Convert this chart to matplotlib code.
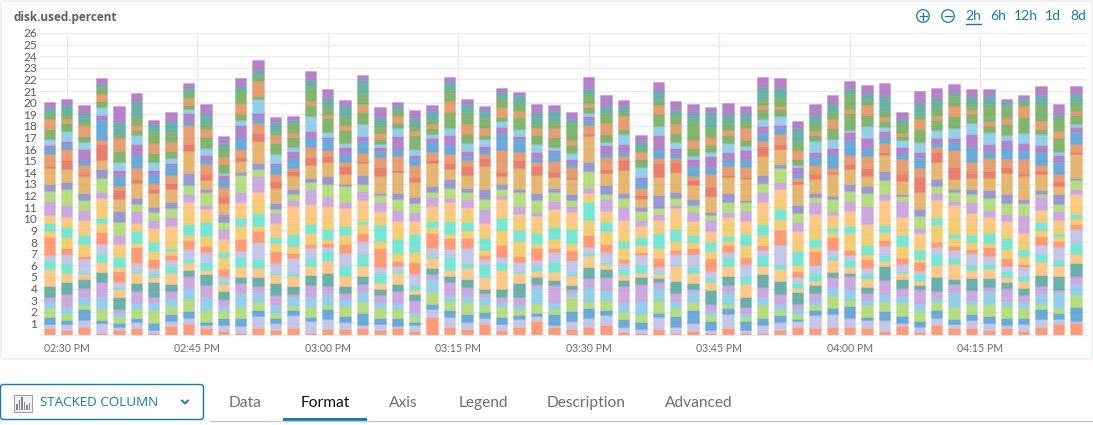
import numpy as np
import matplotlib
matplotlib.use("Agg")
import matplotlib.pyplot as plt
from matplotlib.colors import to_rgba
from matplotlib.patches import FancyBboxPatch, Rectangle, Circle

plt.rcParams['font.family'] = ['Lato', 'DejaVu Sans']

# stack heights per time bucket, bottom series first (29 series, one bar every 2 minutes)
t_0228 = [.60,.37,.57,.75,.60,.34,.98,1.44,.75,.49,1.55,.52,.66,.34,.40,1.15,.89,.60,1.38,.17,1.03,.46,.29,.52,.92,.80,.52,.49,.46]
t_0230 = [.46,.52,.32,.57,.52,1.15,1.03,.75,.89,.75,.57,.92,.86,.60,.26,1.03,1.35,.63,1.12,.78,.92,.46,.20,.89,.69,.34,.52,.69,.49]
t_0232 = [.69,.60,.95,.32,.75,.72,.75,.43,.23,1.09,.29,1.03,.78,.34,.92,.86,.86,.60,1.44,.23,.75,.43,.98,.57,.49,.98,.34,.69,.72]
t_0234 = [.20,.80,.29,.98,.98,1.32,.83,.86,.69,.89,1.03,.80,.37,1.35,.37,.57,1.21,.75,.80,1.32,.34,1.78,.40,.66,.52,.63,.57,.26,.52]
t_0236 = [.43,.29,.32,.49,.34,.37,1.01,.72,.17,.40,.95,.37,.83,.57,.57,.78,1.09,.98,1.03,.80,.32,.83,.55,.66,1.01,1.06,.29,1.09,1.41]
t_0238 = [.57,.57,.34,.80,.46,1.01,.75,.80,.20,.69,1.38,.37,1.01,.37,.34,1.03,.57,.52,1.29,.34,1.01,1.09,.92,.80,.40,.43,.83,1.18,.80]
t_0240 = [.20,.23,.57,1.15,.57,.55,1.29,.43,.34,.43,.78,.72,.78,.63,.55,.69,.66,.49,1.18,.32,.52,.78,.32,.75,.72,.89,1.01,.63,.29]
t_0242 = [.75,.46,.63,.69,.63,.66,.57,.98,.57,.49,.46,.37,.26,.98,.89,.80,.75,.52,1.12,.52,.66,.89,.20,.40,.63,.72,.86,.95,.80]
t_0244 = [.95,.49,.63,1.03,.98,.98,.55,.57,.37,.86,.80,.37,.98,1.01,.86,.72,.78,1.03,1.90,.57,1.64,.37,.66,.37,.29,.63,.57,.29,.46]
t_0246 = [.60,.26,.29,1.03,1.12,1.03,.92,.34,.69,.83,.57,.86,1.21,.80,.32,.34,1.12,.23,.75,.57,.86,.29,.43,.60,1.01,.63,.43,.89,.86]
t_0248 = [.34,.52,.60,.60,.40,.60,.75,.57,.20,.46,.63,1.01,.46,.40,.69,.86,.66,.63,.95,.57,.83,.60,.43,.20,.80,.60,.78,.40,.55]
t_0250 = [.20,.57,.72,.92,1.21,.83,.57,.86,.86,.46,1.06,1.12,.69,.40,1.01,.86,1.44,.29,.89,.40,.66,.98,1.09,.43,.52,.92,1.01,.43,.72]
t_0252 = [.57,1.03,.52,.69,.80,.57,.80,.78,.80,1.41,1.01,.40,1.12,1.24,.57,1.41,.55,.57,1.84,.75,.86,.43,.40,1.18,.29,1.29,.46,.46,.86]
t_0254 = [.43,.57,.46,.40,.75,.80,1.03,.72,.17,.83,1.09,.66,.55,.34,.83,.89,.32,.52,1.26,.66,.60,.72,.23,.75,.98,.66,.37,.78,.37]
t_0256 = [.57,1.18,.40,.34,.75,.29,.69,.83,.32,1.24,.46,.63,.98,.92,1.47,.55,.55,.43,1.09,.40,.29,.83,.60,.37,.89,.32,.83,.29,.32]
t_0258 = [.20,1.01,.32,.89,.86,1.03,.89,.78,.66,.83,.34,1.01,.75,.69,1.03,1.26,.60,.34,1.12,.75,.80,.89,.49,1.29,1.01,.32,1.24,.55,.78]
t_0300 = [.52,.89,.83,.34,.98,.63,1.18,1.01,.86,.32,.37,.34,.86,.80,1.21,.78,1.09,.69,1.18,.52,.49,.98,.20,.43,1.15,.29,.78,.69,.78]
t_0302 = [.55,.55,.55,.83,.66,.49,.55,.89,.89,1.06,.83,.75,.80,.32,1.21,.52,1.35,.17,.89,.66,.34,.69,.60,.40,1.12,.43,.75,.92,.43]
t_0304 = [.57,.29,1.03,.92,.89,.72,.66,.83,1.06,1.12,.72,.72,.32,.52,1.21,.78,.63,.80,1.03,.17,.72,.95,.43,1.09,.98,.72,.92,1.12,.46]
t_0306 = [.46,.49,.52,.86,.49,.60,.57,.49,.86,.52,1.61,.60,1.41,.72,.46,.80,.60,.20,1.41,.83,.83,.55,.29,.26,.46,.46,.69,.72,.89]
t_0308 = [.60,.20,.66,.75,.55,1.01,.66,.89,.20,.40,.46,.72,1.18,.98,.57,.89,1.01,.52,1.78,.20,1.18,.60,1.15,.66,.43,.60,.52,.32,.34]
t_0310 = [.37,.52,.23,.52,.37,.98,.55,.37,.40,.98,1.03,.80,1.61,.17,.95,.72,.80,.52,1.29,.46,1.01,.63,.23,.52,1.18,.34,.43,.66,.69]
t_0312 = [1.52,.69,.49,1.01,1.24,.29,.52,.83,.23,.66,1.32,.49,.49,.52,.78,.78,.49,.46,2.04,.23,.69,.86,.29,.40,.49,.34,.32,.78,.55]
t_0314 = [.72,.86,.55,.80,.52,1.09,.55,.49,1.15,.66,.98,.34,1.12,.78,.83,.32,.86,.83,.83,.49,.80,.80,.86,.60,1.41,.89,.92,.72,.43]
t_0316 = [.52,.63,.69,1.01,.55,.75,.66,.92,.49,1.26,.86,.66,.75,.66,.63,.66,.60,.34,1.12,.80,.52,.32,.46,.66,.75,.86,1.03,.69,.49]
t_0318 = [.98,.46,.52,.63,.72,.32,.37,1.01,.98,.57,.29,.43,1.09,.63,.63,1.26,.80,.89,2.01,.66,.34,.32,.32,.63,.40,.55,.83,.75,.32]
t_0320 = [.43,.49,.66,.80,.49,.43,.69,1.58,.66,.52,1.03,1.24,1.03,.46,1.18,.29,.60,.43,.69,.37,1.84,1.49,.55,.49,.37,.86,.72,.55,.29]
t_0322 = [.66,.72,.34,.52,.37,.63,1.24,.86,.17,.75,.55,1.24,.98,.86,.52,.72,1.15,.29,1.78,.69,.75,1.06,.32,.60,.98,.57,.69,.63,.32]
t_0324 = [1.21,.43,.29,.72,1.44,.29,.63,.49,.40,.52,1.09,.32,.92,.52,.98,.34,1.06,.55,1.61,.72,.37,.37,.52,.69,.72,.60,.37,.95,.78]
t_0326 = [.66,.20,.95,.40,.52,1.55,.46,.69,.86,.83,.34,.80,1.03,.92,.66,.63,.78,.37,.95,.46,.95,.72,.23,.23,.89,.75,.60,.86,.52]
t_0328 = [.52,.72,.80,1.21,.40,.32,.37,.72,.29,1.15,.78,.60,1.26,.46,1.01,.46,.55,.55,1.29,.17,.83,.32,.40,.49,.72,.37,1.52,.32,.60]
t_0330 = [.72,.75,.86,.55,1.24,.75,1.01,.89,.26,.57,1.03,1.24,1.61,.46,.32,.43,1.47,.72,2.27,.14,.78,.46,.34,.26,.46,.37,.80,.46,1.01]
t_0332 = [.86,.83,.46,.83,.86,1.18,.66,.40,.23,.80,.72,1.12,.75,.46,.52,1.03,.46,.78,.98,.37,1.03,.26,.78,.23,.69,.92,.92,.60,.95]
t_0334 = [.26,.40,.69,.60,.80,1.44,.52,.49,.49,.55,.34,.89,.63,.89,.95,1.12,.75,.43,1.98,.83,.37,.34,.66,.92,.43,1.09,.37,.46,.57]
t_0336 = [.20,.32,.60,.69,1.12,1.47,.63,.34,.66,.86,.29,.57,.69,.20,.72,.57,.75,.34,.69,.32,.60,.72,.26,.83,.75,.57,.37,.46,.63]
t_0338 = [.52,1.03,.37,1.12,1.01,.49,.40,.29,.20,.46,.72,.86,1.32,.55,.57,.55,.46,1.12,1.58,1.18,.43,.78,1.24,.78,1.01,.75,.40,.78,.83]
t_0340 = [.17,.52,.98,.63,.66,.69,1.01,1.29,.14,.89,.34,.78,1.06,.72,1.03,.26,.66,.46,1.78,.80,.34,.46,.46,.46,.83,.72,.80,.40,.80]
t_0342 = [.37,.69,1.09,.69,.83,.29,.52,.89,.49,1.12,.52,.52,.63,.80,.37,.78,.60,.52,1.21,.40,.34,.92,.55,.26,.72,.63,1.70,.63,.78]
t_0344 = [.20,.23,.78,.52,.37,.57,1.21,.66,.37,.57,1.15,.63,.72,.37,.57,.95,.46,.23,1.41,.80,1.06,.60,1.01,.32,.60,.66,.89,1.32,.37]
t_0346 = [.57,1.21,.57,.34,.98,.66,.75,.83,.80,.40,.63,.32,.46,1.09,.52,.49,.80,.83,1.35,.17,.75,.52,.75,.72,.75,.43,.57,.80,.89]
t_0348 = [.20,.23,.80,.32,.32,.57,.86,1.12,.66,1.03,.60,1.03,.95,.29,.86,.83,.75,.20,1.81,.20,.86,.66,.78,.37,.52,.98,.66,.69,.57]
t_0350 = [.20,.66,.57,1.12,.69,.92,1.09,.69,.95,.43,.43,.86,.95,.78,1.09,.89,.80,.66,1.61,.92,.40,.69,.60,.63,.83,.37,.52,.98,.86]
t_0352 = [.43,.69,.60,.43,.49,.89,1.12,1.03,.40,1.67,1.29,.95,.89,.86,.80,.66,1.15,.37,1.26,.46,.86,.49,.29,.78,.60,.29,.72,.78,.86]
t_0354 = [.72,.49,.17,.46,.43,.40,1.03,.37,.43,.49,.52,.52,1.21,.80,.92,.80,.72,.72,1.78,.29,.23,.37,.60,.17,.52,.80,.78,1.12,.55]
t_0356 = [.60,1.12,.46,.37,.49,.55,.72,.37,.66,.72,1.18,.32,.69,.95,1.24,1.01,.43,.37,1.21,.43,.75,.69,.43,.92,.57,.32,.75,.63,.95]
t_0358 = [.69,1.15,.49,1.01,.80,.86,.43,1.06,.23,.60,1.12,.40,.34,.66,.49,.37,.98,.29,1.87,.23,.29,1.21,.57,.72,.95,.80,.55,.69,.78]
t_0400 = [.69,.80,1.03,.46,1.01,1.09,.29,.52,.60,.40,.43,1.47,.60,.57,.75,.86,.86,.57,1.32,.40,.75,1.29,.69,.20,1.47,.37,1.24,.43,.72]
t_0402 = [.60,.66,.29,1.06,.43,.55,.55,.72,.40,.49,.83,.37,.80,1.12,.69,1.52,1.12,.60,.89,.69,1.01,.69,.89,1.01,.98,.80,.46,.49,.83]
t_0404 = [.37,.92,.75,.83,.66,1.21,1.21,.43,.55,.69,.57,.69,.60,.52,1.61,.55,1.21,.75,1.41,.23,.75,.52,.49,.40,.52,.29,.55,1.29,1.12]
t_0406 = [.78,.23,.66,1.12,.55,.69,.78,.55,.17,.57,.52,1.03,.92,.63,.95,1.41,.40,.20,1.12,.60,1.29,.40,.63,.55,.34,.34,.78,.40,.57]
t_0408 = [.26,.40,.57,.80,.60,1.29,.40,.32,.57,.34,.72,.29,.72,.66,.83,.46,1.01,.63,1.47,1.26,.78,.98,.37,.86,1.18,.80,.40,1.01,1.03]
t_0410 = [.86,.57,.69,.72,.32,.60,1.24,1.03,.92,.66,.43,1.44,.63,.52,1.01,.60,.57,.63,1.49,.86,.40,.32,.46,.72,.78,.40,.75,.75,.89]
t_0412 = [.60,.32,.46,1.01,1.29,.72,.43,1.24,.60,.63,.37,.69,.32,1.35,1.15,.37,.78,.20,.92,1.03,1.47,.66,.37,.86,.98,.89,.86,.32,.72]
t_0414 = [.60,.69,.52,.89,.29,.89,1.06,.66,.43,1.01,.40,.57,.63,.92,.95,.95,.66,.43,.98,.46,.92,1.24,1.15,.95,.80,.32,.49,.69,.60]
t_0416 = [.43,.57,.63,1.01,1.15,.32,.80,.78,.40,.69,.78,.37,.89,.72,.60,.63,1.01,.69,1.01,.60,1.18,.60,.60,1.01,.49,.46,1.47,.69,.63]
t_0418 = [.60,.23,.63,1.03,.46,1.09,.55,.40,.52,.43,.69,.80,.92,.63,.83,.57,.95,.78,1.84,.55,.66,.98,.66,.40,.98,.49,1.03,.34,.32]
t_0420 = [.32,.63,.52,.83,.57,.55,.66,.60,.40,.75,.29,.69,.60,.72,.69,1.47,1.06,.40,1.95,.17,1.24,.80,.66,.86,1.38,.89,.26,.34,.32]
t_0422 = [.72,.66,.83,.49,.80,.69,.98,1.09,.69,.78,.83,.52,.69,.32,.69,1.06,.34,.32,1.32,.32,.46,1.12,.66,.92,.46,.66,1.44,.83,.72]
t_0424 = [.98,.37,.57,.37,1.29,.29,1.21,.89,.49,1.09,.55,.40,.32,.49,.55,.78,.63,.89,.69,.43,.57,1.06,.55,.32,1.15,.66,1.09,.34,.83]
t_0426 = [1.03,.17,1.24,1.01,.92,.69,1.15,.78,.89,1.21,.49,.49,.37,.83,.86,.40,.80,.20,2.01,.20,.72,1.01,.43,.26,.80,.32,.78,.69,.69]

stacks = [t_0228, t_0230, t_0232, t_0234, t_0236, t_0238, t_0240, t_0242, t_0244, t_0246,
          t_0248, t_0250, t_0252, t_0254, t_0256, t_0258, t_0300, t_0302, t_0304, t_0306,
          t_0308, t_0310, t_0312, t_0314, t_0316, t_0318, t_0320, t_0322, t_0324, t_0326,
          t_0328, t_0330, t_0332, t_0334, t_0336, t_0338, t_0340, t_0342, t_0344, t_0346,
          t_0348, t_0350, t_0352, t_0354, t_0356, t_0358, t_0400, t_0402, t_0404, t_0406,
          t_0408, t_0410, t_0412, t_0414, t_0416, t_0418, t_0420, t_0422, t_0424, t_0426]
minutes = [148 + 2 * i for i in range(len(stacks))]  # minutes after 12:00 PM

tick_minutes = [150, 165, 180, 195, 210, 225, 240, 255]
tick_labels = ["02:30 PM", "02:45 PM", "03:00 PM", "03:15 PM", "03:30 PM", "03:45 PM", "04:00 PM", "04:15 PM"]

salmon = "#FF8A60"
lavender = "#BBBDE4"
blue = "#529BD1"
lime = "#A9D86A"
sky = "#83C7E5"
lilac = "#C49AD9"
teal = "#51A29A"
peach = "#FFBF77"
turquoise = "#60E2CA"
yellow = "#F0C65E"
periwinkle = "#8888CA"
tan = "#E0AC59"
red = "#E46A57"
copper = "#E28D59"
purple = "#A86DBF"
green = "#6DA856"
series_colors = [salmon, lavender, blue, lime, sky, lilac, teal, peach, turquoise, lavender,
                 salmon, yellow, turquoise, yellow, peach, lilac, lime, periwinkle, tan, red,
                 copper, blue, purple, sky, green, copper, green, teal, purple]

W, H = 1093, 425
UI_BLUE = "#1479B0"
fig = plt.figure(figsize=(W / 100, H / 100), dpi=100)

# page chrome, in pixel coordinates
ui = fig.add_axes([0, 0, 1, 1], zorder=0)
ui.set_xlim(0, W)
ui.set_ylim(H, 0)
ui.axis("off")
ui.add_patch(FancyBboxPatch((1, 1), 1091, 358, boxstyle="round,pad=0,rounding_size=3",
                            fc="white", ec="#E4EAF2", lw=1))
ui.text(13, 17, "disk.used.percent", fontsize=8.5, fontweight="bold", color="#5E5E5E",
        va="center", ha="left", family=["Open Sans", "DejaVu Sans"])

for cx in (923, 948):
    ui.add_patch(Circle((cx, 16), 6.3, fc="none", ec=UI_BLUE, lw=0.9))
    ui.plot([cx - 3.5, cx + 3.5], [16, 16], color=UI_BLUE, lw=0.9)
ui.plot([923, 923], [12.5, 19.5], color=UI_BLUE, lw=0.9)
for label, cx in zip(["2h", "6h", "12h", "1d", "8d"], [973, 998, 1026, 1053, 1078]):
    ui.text(cx, 15.5, label, fontsize=10, color=UI_BLUE, ha="center", va="center")
ui.plot([966, 981], [24, 24], color=UI_BLUE, lw=1)

# chart type button and tabs
ui.add_patch(FancyBboxPatch((0.5, 384.5), 203, 35, boxstyle="round,pad=0,rounding_size=3",
                            fc="white", ec=UI_BLUE, lw=1))
ui.add_patch(Rectangle((13.5, 394.5), 18, 17, fc="#F2F2F2", ec="#9A9A9A", lw=0.7))
for bx, bh in zip([16, 18.5, 21, 23.5, 26, 28.5], [6, 10, 13, 8, 5, 7]):
    ui.add_patch(Rectangle((bx, 410 - bh), 1.7, bh, fc="#7D8A94", ec="none"))
ui.text(40.5, 402.5, "STACKED COLUMN", fontsize=9.6, color=UI_BLUE, ha="left", va="center",
        family=["Open Sans", "DejaVu Sans"])
ui.plot([182, 185, 188], [400.5, 403.5, 400.5], color=UI_BLUE, lw=1.4)
ui.plot([210, W], [421.2, 421.2], color="#C9C9C9", lw=1)
ui.add_patch(Rectangle((283, 418), 84, 3, fc=UI_BLUE, ec="none"))
tab_names = ["Data", "Format", "Axis", "Legend", "Description", "Advanced"]
tab_x = [245, 325, 403, 483, 586, 699]
for name, cx in zip(tab_names, tab_x):
    ui.text(cx, 403, name, fontsize=11.2, ha="center", va="center",
            color="#111111" if name == "Format" else "#6E6E6E")

# chart
ax = fig.add_axes([40 / W, 1 - 335 / H, 1047 / W, 302 / H], zorder=1)
ax.patch.set_alpha(0)
heights = np.array(stacks).T
bottom = np.zeros(len(minutes))
for values, color in zip(heights, series_colors):
    ax.bar(minutes, values, bottom=bottom, width=1.3, color=to_rgba(color, 0.85),
           edgecolor=to_rgba(color, 0.22), linewidth=0.9, zorder=3)
    bottom += values

ax.set_xlim(146.93, 267.28)
ax.set_ylim(0, 26)
ax.set_yticks(range(1, 27))
ax.set_xticks(tick_minutes)
ax.set_xticklabels(tick_labels)
ax.grid(True, color="#EBEBEB", lw=1)
ax.set_axisbelow(True)
ax.tick_params(axis="both", length=0)
ax.tick_params(axis="y", labelsize=8.6, labelcolor="#5A5A5A", pad=2)
ax.tick_params(axis="x", labelsize=7.6, labelcolor="#6A6A6A", pad=6)
for side in ["top", "right", "left"]:
    ax.spines[side].set_visible(False)
ax.spines["bottom"].set_color("#EBEBEB")

fig.savefig("out.png", dpi=100)
